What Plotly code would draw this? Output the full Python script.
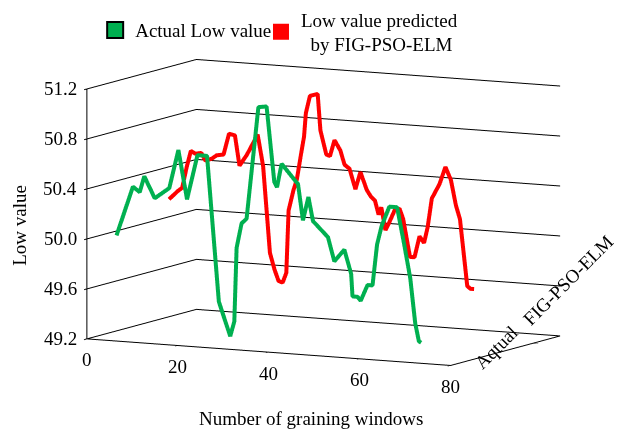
import plotly.graph_objects as go

# Actual Low value (green)
act_x = [0.5, 4.1, 5.6, 6.6, 8.9, 12.1, 14.1, 16.0, 18.3, 20.4, 23.0, 25.5, 26.4, 26.9, 28.0, 29.1,
         31.7, 33.5, 35.2, 35.8, 36.8, 40.1, 40.4, 41.5, 42.7, 43.7, 47.0, 48.4, 50.6, 52.1, 52.4,
         53.5, 54.2, 55.7, 56.8, 57.8, 58.8, 60.5, 62.2, 63.7, 65.1, 66.2, 67.0, 67.5]
act_z = [49.97, 50.37, 50.33, 50.46, 50.29, 50.38, 50.69, 50.30, 50.66, 50.66, 49.50, 49.23, 49.35,
         49.94, 50.14, 50.18, 51.08, 51.09, 50.49, 50.45, 50.64, 50.50, 50.49, 50.20, 50.39, 50.20,
         50.08, 49.89, 49.99, 49.80, 49.62, 49.62, 49.59, 49.72, 49.72, 50.05, 50.20, 50.36, 50.36,
         50.08, 49.80, 49.44, 49.30, 49.29]

# Low value predicted by FIG-PSO-ELM (red)
pred_x = [0.0, 1.9, 2.9, 3.9, 4.8, 5.8, 7.1, 8.0, 9.4, 10.5, 12.0, 13.2, 14.5, 15.5, 17.1, 19.5,
          20.7, 22.2, 23.2, 24.1, 25.0, 25.8, 26.3, 27.4, 28.1, 29.0, 29.7, 30.1, 31.0, 32.7, 33.3,
          34.6, 35.4, 36.4, 37.7, 38.6, 39.7, 41.0, 42.1, 43.5, 44.4, 45.3, 46.1, 46.7, 47.6, 48.4,
          49.7, 50.7, 51.5, 53.0, 54.0, 55.1, 56.1, 56.9, 57.8, 59.5, 60.8, 62.0, 63.1, 64.0, 65.6,
          66.3, 67.1]
pred_z = [50.14, 50.21, 50.24, 50.41, 50.54, 50.52, 50.53, 50.47, 50.49, 50.52, 50.53, 50.70, 50.69,
          50.45, 50.54, 50.71, 50.46, 49.77, 49.64, 49.55, 49.54, 49.62, 50.12, 50.29, 50.37, 50.57,
          50.72, 50.91, 51.05, 51.07, 50.78, 50.59, 50.58, 50.71, 50.63, 50.52, 50.49, 50.33, 50.47,
          50.33, 50.28, 50.25, 50.14, 50.20, 50.02, 50.08, 50.19, 50.20, 50.12, 49.82, 49.82, 49.99,
          49.94, 50.07, 50.30, 50.42, 50.56, 50.46, 50.26, 50.15, 49.62, 49.60, 49.60]

series_pos = [1, 2]
series_labels = ["Aqtual", "FIG-PSO-ELM"]
x_ticks = [0, 20, 40, 60, 80]
z_ticks = [49.2, 49.6, 50.0, 50.4, 50.8, 51.2]

GREEN = "#00b050"
RED = "#ff0000"
FONT = "Liberation Serif"
FS = 19

fig = go.Figure()
fig.add_trace(go.Scatter3d(x=act_x, y=[series_pos[0]] * len(act_x), z=act_z, mode="lines",
                           line=dict(color=GREEN, width=8), showlegend=False, hoverinfo="skip"))
fig.add_trace(go.Scatter3d(x=pred_x, y=[series_pos[1]] * len(pred_x), z=pred_z, mode="lines",
                           line=dict(color=RED, width=8), showlegend=False, hoverinfo="skip"))
# legend entries
fig.add_trace(go.Scatter3d(x=[None], y=[None], z=[None], mode="markers", name="Actual Low value",
                           legend="legend",
                           marker=dict(symbol="square", size=16, color=GREEN,
                                       line=dict(color="black", width=2))))
fig.add_trace(go.Scatter3d(x=[None], y=[None], z=[None], mode="markers",
                           name="Low value predicted<br>\u00a0\u00a0by FIG-PSO-ELM",
                           legend="legend2",
                           marker=dict(symbol="square", size=16, color=RED,
                                       line=dict(color=RED, width=0))))

ax_common = dict(showbackground=False, zeroline=False, showspikes=False,
                 showline=True, linecolor="black", linewidth=2, showticklabels=False,
                 ticks="outside", tickcolor="black", ticklen=6, tickwidth=2,
                 title=dict(text=""))

y_front = 0.5
z_floor = 49.2
scene_ann = []
for v in x_ticks:
    scene_ann.append(dict(x=v, y=y_front, z=z_floor, text=str(v), showarrow=False,
                          xanchor="center", yanchor="middle", yshift=-21,
                          font=dict(family=FONT, size=FS, color="black")))
for v in z_ticks:
    scene_ann.append(dict(x=0, y=y_front, z=v, text=f"{v:.1f}", showarrow=False,
                          xanchor="right", yanchor="middle", xshift=-8,
                          font=dict(family=FONT, size=FS, color="black")))
scene_ann.append(dict(x=80, y=series_pos[0], z=z_floor, text=series_labels[0], showarrow=False,
                      textangle=-45, xshift=18, yshift=11, font=dict(family=FONT, size=FS)))
scene_ann.append(dict(x=80, y=series_pos[1], z=z_floor, text=series_labels[1], showarrow=False,
                      textangle=-45, xshift=35, yshift=63, font=dict(family=FONT, size=FS)))

e = (0.4571, -0.8782, 0.1404)
r = 2.0
cz = -0.031
fig.update_layout(
    width=622, height=432,
    margin=dict(l=0, r=0, t=0, b=0),
    paper_bgcolor="white",
    font=dict(family=FONT, size=FS, color="black"),
    scene=dict(
        domain=dict(x=[0.04, 1.0], y=[0.0, 1.0]),
        xaxis=dict(range=[0, 80], tickvals=x_ticks, showgrid=False, **ax_common),
        yaxis=dict(range=[0.5, 2.5], tickvals=series_pos, showgrid=False, **ax_common),
        zaxis=dict(range=[49.2, 51.2], tickvals=z_ticks, showgrid=True,
                   gridcolor="black", gridwidth=2, **ax_common),
        aspectmode="manual",
        aspectratio=dict(x=1.925, y=1.113, z=1.185),
        camera=dict(eye=dict(x=e[0] * r, y=e[1] * r, z=e[2] * r + cz),
                    up=dict(x=0, y=0, z=1), center=dict(x=0, y=0, z=cz),
                    projection=dict(type="orthographic")),
        annotations=scene_ann,
    ),
    legend=dict(orientation="h", x=0.153, y=0.988, xanchor="left", yanchor="top", valign="top",
                font=dict(family=FONT, size=FS), bgcolor="rgba(0,0,0,0)"),
    legend2=dict(orientation="h", x=0.4196, y=1.013, xanchor="left", yanchor="top",
                 valign="middle", font=dict(family=FONT, size=FS), bgcolor="rgba(0,0,0,0)"),
    annotations=[
        dict(text="Low value", xref="paper", yref="paper", x=0.032, y=0.486, showarrow=False,
             xanchor="center", yanchor="middle", textangle=-90, font=dict(family=FONT, size=FS)),
        dict(text="Number of graining windows", xref="paper", yref="paper", x=0.5, y=0.0324,
             xanchor="center", yanchor="middle", showarrow=False, font=dict(family=FONT, size=FS)),
    ],
)

fig.write_html("out.html", config={"displayModeBar": False},
               post_script="document.body.style.margin='0';")
